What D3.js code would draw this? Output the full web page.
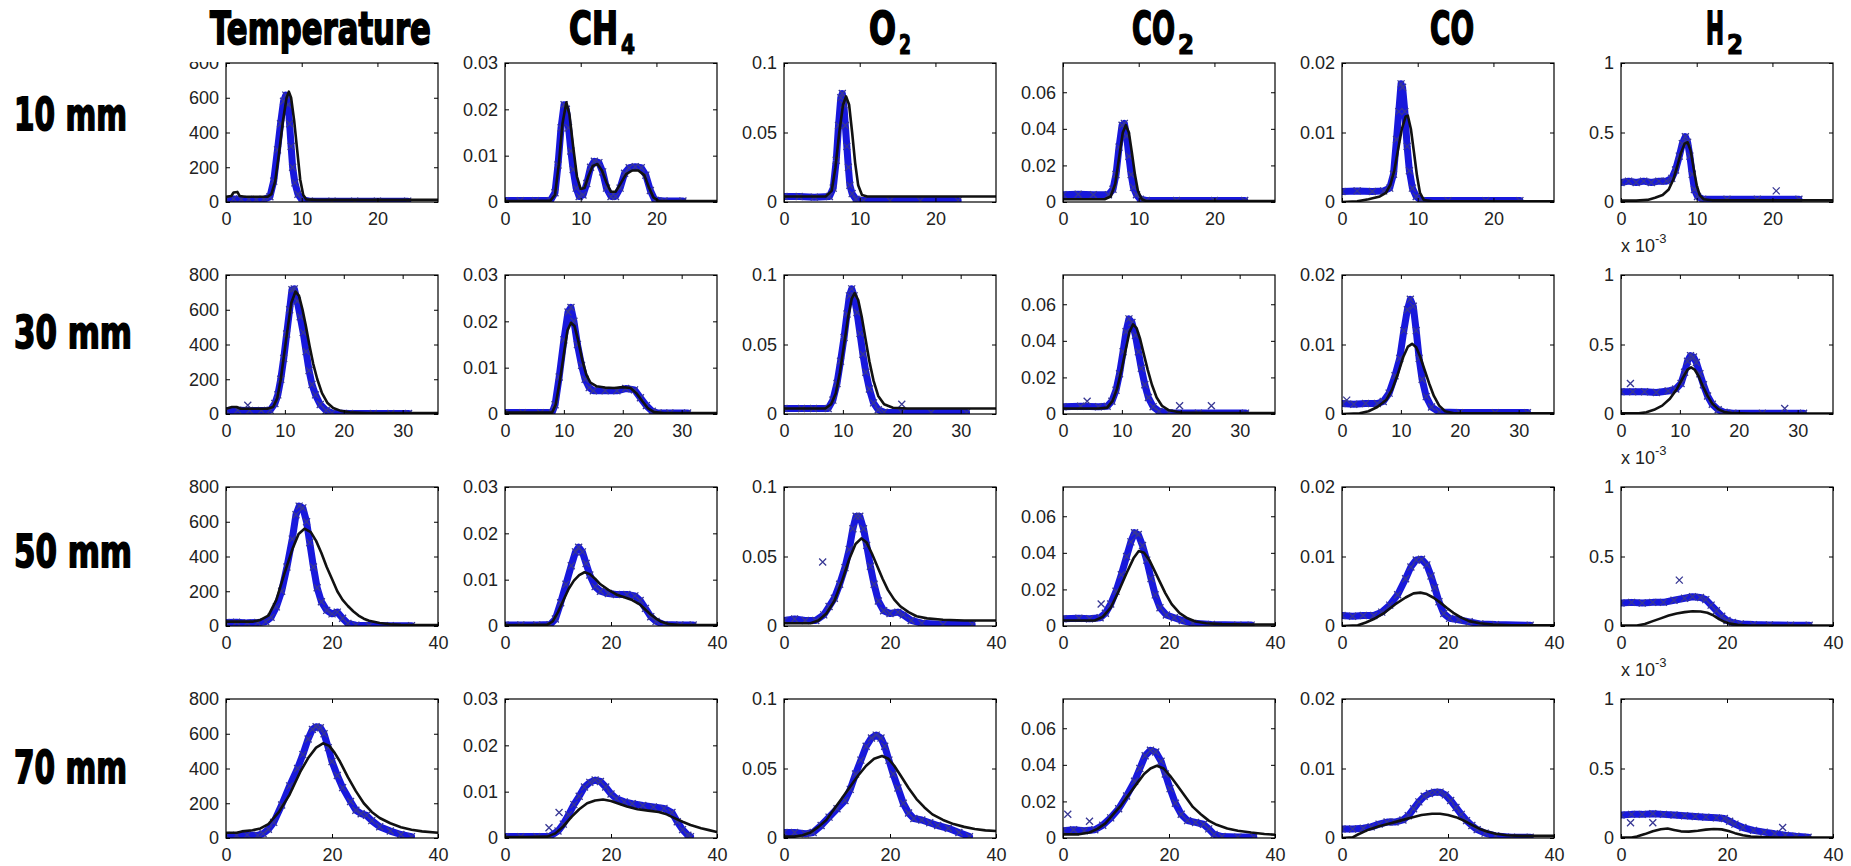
<!DOCTYPE html>
<html>
<head>
<meta charset="utf-8">
<script src="https://cdn.jsdelivr.net/npm/d3@7"></script>
<style>
body { margin: 0; background: #fff; }
.tick text { font-family: "Liberation Sans", Arial, sans-serif; font-size: 18px; fill: #222; }
</style>
</head>
<body>
<script>
// rows = distance above the burner, columns = measured quantity
const heights = ["10 mm", "30 mm", "50 mm", "70 mm"];
const speciesMain = ["Temperature", "CH", "O", "CO", "CO", "H"];
const speciesSub = ["", "4", "2", "2", "", "2"];

const xMax = [28, 36, 40, 40];
const xTicks = [[0, 10, 20], [0, 10, 20, 30], [0, 20, 40], [0, 20, 40]];
const yMax = [800, 0.03, 0.1, 0.076, 0.02, 1];
const yTicks = [[0, 200, 400, 600, 800], [0, 0.01, 0.02, 0.03], [0, 0.05, 0.1],
                [0, 0.02, 0.04, 0.06], [0, 0.01, 0.02], [0, 0.5, 1]];
const h2Exponent = [false, true, true, true];

// measured (blue x) and model (black line), one list per row
const tempExp = [
  [[0,15],[1,18],[2,15],[3,15],[4,14],[5,15],[5.8,30],[6.3,120],[6.8,300],[7.2,450],[7.6,580],[7.9,615],[8.2,560],[8.4,450],[8.6,320],[8.8,200],[9.1,110],[9.5,45],[10,15],[11,5],[14,5],[17,5],[20,5],[24,5]],
  [[0,20],[2,22],[4,20],[6,20],[7.5,22],[8.3,60],[8.8,110],[9.3,200],[9.8,320],[10.3,460],[10.8,600],[11.2,715],[11.6,720],[12.1,650],[12.6,560],[13.1,470],[13.6,360],[14.1,250],[14.6,170],[15.2,110],[16,55],[17,20],[18,6],[21,3],[25,3],[28,3],[31,3]],
  [[0,20],[2,22],[4,18],[6,20],[7.5,25],[8.5,50],[9.5,110],[10.5,200],[11.5,340],[12.5,500],[13.2,640],[13.8,690],[14.5,680],[15.2,600],[15.8,480],[16.5,340],[17.2,220],[18,140],[19,90],[20,70],[21,80],[22,45],[23,15],[24.5,5],[27,3],[31,2],[35,2]],
  [[0,15],[2,15],[4,18],[6,15],[7,25],[8,50],[9,90],[10.5,190],[12,300],[13.5,400],[14.5,480],[15.5,570],[16.3,625],[17,640],[17.8,635],[18.5,600],[19.3,520],[20,440],[21,360],[22,290],[23.5,210],[24.5,160],[25.5,140],[26.5,130],[27.5,100],[29,65],[31,40],[33,20],[35,8]]
];
const tempFit = [
  [[0,30],[0.7,35],[1,55],[1.5,58],[1.8,35],[2.5,30],[4,30],[5.5,30],[6,45],[6.5,120],[7,280],[7.5,460],[8,600],[8.3,635],[8.6,600],[9,470],[9.4,300],[9.8,130],[10.2,40],[10.6,15],[12,12],[16,12],[20,12],[24,12],[28,12]],
  [[0,30],[1,40],[1.8,40],[2.5,30],[5,30],[7,30],[8,40],[8.7,90],[9.3,200],[9.9,350],[10.5,500],[11.1,640],[11.8,705],[12.4,680],[13,600],[13.6,500],[14.2,390],[14.8,290],[15.5,200],[16.3,120],[17.2,65],[18.2,35],[19.5,18],[21,10],[24,6],[28,5],[32,5],[36,5]],
  [[0,25],[3,25],[5,25],[6.5,35],[8,60],[9.5,150],[11,300],[12.5,440],[13.7,530],[14.8,560],[16,540],[17,490],[18,420],[19,340],[20,270],[21,200],[22,150],[23,115],[24,85],[25,60],[26,42],[27,30],[29,17],[31,10],[33,7],[36,5],[40,5]],
  [[0,30],[2,30],[3,38],[5,45],[6.5,55],[8,80],[10,150],[12,250],[14,380],[15.5,460],[17,520],[18.3,545],[19.5,530],[20.5,490],[21.5,440],[23,350],[24.5,270],[26,200],[27.5,150],[29,115],[31,85],[33,62],[35,48],[37,38],[40,30]]
];
const tempOut = [[], [[3.7,50]], [], []];

const ch4Exp = [
  [[0,0.0003],[2,0.0003],[4,0.0003],[6,0.0003],[6.6,0.002],[7,0.008],[7.4,0.016],[7.8,0.021],[8.1,0.02],[8.4,0.016],[8.7,0.011],[9,0.007],[9.4,0.003],[9.8,0.0012],[10.3,0.0015],[10.8,0.004],[11.3,0.0075],[11.8,0.0088],[12.4,0.0085],[12.9,0.0065],[13.4,0.003],[14,0.0012],[14.6,0.0012],[15.2,0.003],[15.8,0.0062],[16.4,0.0074],[17.2,0.0076],[18,0.0074],[18.6,0.0058],[19.2,0.0025],[19.8,0.0004],[21,0.0002],[23.5,0.0002]],
  [[0,0.0003],[3,0.0003],[6,0.0003],[8,0.0003],[8.5,0.002],[9.2,0.008],[10,0.016],[10.7,0.022],[11.2,0.023],[11.7,0.02],[12.3,0.015],[13,0.0105],[13.6,0.0075],[14.3,0.0057],[15,0.005],[17,0.005],[19,0.005],[20.5,0.0055],[22,0.0052],[23,0.0035],[24,0.0018],[25,0.0006],[26,0.0002],[28,0.0002],[31,0.0002]],
  [[0,0.0002],[3,0.0002],[6,0.0002],[8.5,0.0003],[9.5,0.0015],[10.5,0.005],[11.5,0.009],[12.5,0.013],[13.3,0.016],[13.9,0.017],[14.6,0.016],[15.3,0.0135],[16,0.011],[17,0.0085],[18,0.0075],[19.5,0.007],[21,0.0068],[23,0.0068],[24.5,0.0065],[25.5,0.0055],[26.5,0.0038],[27.5,0.002],[28.5,0.001],[30,0.0003],[33,0.0002],[35.5,0.0002]],
  [[0,0.0003],[3,0.0003],[6,0.0003],[8.5,0.0004],[10,0.0015],[11,0.003],[12,0.005],[13,0.0072],[14,0.009],[15,0.011],[16,0.012],[17,0.0125],[18,0.0122],[19,0.011],[20,0.0095],[21,0.0085],[22.5,0.0078],[24,0.0074],[26,0.007],[28,0.0067],[30,0.0064],[31.5,0.0055],[32.5,0.0035],[33.5,0.0018],[34.5,0.0006],[35,0.0003]]
];
const ch4Fit = [
  [[0,0.0002],[3,0.0002],[6,0.0003],[6.6,0.0015],[7.1,0.008],[7.6,0.017],[8.1,0.0215],[8.5,0.019],[9,0.012],[9.5,0.0055],[10,0.0028],[10.5,0.003],[11,0.0055],[11.6,0.0078],[12.2,0.0082],[12.8,0.0068],[13.4,0.0042],[14,0.0022],[14.6,0.0022],[15.2,0.0038],[16,0.006],[16.8,0.0068],[17.6,0.0068],[18.4,0.0058],[19,0.0032],[19.6,0.001],[20.3,0.0002],[24,0.0002],[28,0.0002]],
  [[0,0.0003],[4,0.0003],[8,0.0003],[8.6,0.002],[9.3,0.007],[10,0.013],[10.6,0.018],[11.2,0.0197],[11.8,0.019],[12.4,0.016],[13.1,0.0118],[13.8,0.0085],[14.5,0.0068],[15.5,0.006],[17,0.0057],[18.5,0.0056],[20,0.0058],[21.3,0.0056],[22.3,0.0045],[23.3,0.0028],[24.3,0.0012],[25.3,0.0004],[27,0.0002],[36,0.0002]],
  [[0,0.0002],[4,0.0002],[8,0.0003],[9,0.001],[10,0.003],[11,0.0055],[12,0.008],[13,0.0098],[14,0.011],[15,0.0116],[16,0.0112],[17,0.0102],[18,0.009],[19.5,0.0078],[21,0.0068],[22.5,0.0062],[24,0.0056],[25.5,0.0046],[26.5,0.0035],[27.5,0.0025],[28.5,0.0016],[29.5,0.0009],[31,0.0004],[33,0.0002],[40,0.0002]],
  [[0,0.0002],[4,0.0002],[8,0.0003],[9.5,0.001],[11,0.0025],[12.5,0.0045],[14,0.0062],[15.5,0.0075],[17,0.0081],[18.5,0.0083],[20,0.008],[21.5,0.0074],[23,0.0068],[25,0.0062],[27,0.0059],[29,0.0056],[30.5,0.0051],[32,0.0043],[33.5,0.0035],[35,0.0028],[37,0.0021],[38.5,0.0017],[40,0.0013]]
];
const ch4Out = [[], [], [], [[8.3,0.0022],[10.2,0.0055]]];

const o2Exp = [
  [[0,0.004],[2,0.004],[4,0.0035],[6,0.004],[6.5,0.01],[6.9,0.03],[7.2,0.055],[7.5,0.075],[7.7,0.078],[7.9,0.07],[8.1,0.055],[8.3,0.04],[8.5,0.025],[8.7,0.012],[9,0.006],[9.5,0.002],[10.5,0.001],[14,0.001],[18,0.001],[23,0.001]],
  [[0,0.004],[3,0.004],[5,0.004],[7.5,0.004],[8.3,0.01],[9,0.022],[9.6,0.038],[10.2,0.055],[10.7,0.072],[11.1,0.085],[11.5,0.09],[11.9,0.085],[12.4,0.073],[12.9,0.058],[13.4,0.043],[13.9,0.03],[14.5,0.018],[15.2,0.008],[16,0.003],[17,0.0012],[20,0.001],[25,0.001],[31,0.001]],
  [[0,0.004],[2,0.005],[4,0.004],[6,0.004],[7.5,0.008],[8.5,0.014],[9.5,0.02],[10.5,0.03],[11.5,0.042],[12.3,0.055],[13,0.07],[13.6,0.079],[14.3,0.079],[15,0.07],[15.6,0.058],[16.3,0.043],[17,0.03],[17.8,0.018],[18.8,0.011],[20,0.009],[21.5,0.01],[22.5,0.008],[24,0.004],[26,0.002],[30,0.001],[35.5,0.001]],
  [[0,0.004],[2,0.004],[4,0.003],[5.5,0.004],[7,0.009],[8.5,0.015],[10,0.021],[11.5,0.027],[12.5,0.035],[13.5,0.046],[14.5,0.056],[15.5,0.066],[16.5,0.072],[17.4,0.074],[18.3,0.072],[19,0.066],[19.8,0.056],[20.6,0.046],[21.5,0.036],[22.5,0.025],[23.5,0.018],[24.5,0.014],[26,0.013],[27.5,0.011],[29,0.009],[31,0.007],[33,0.004],[35,0.001]]
];
const o2Fit = [
  [[0,0.004],[3,0.004],[5.5,0.004],[6.3,0.008],[6.8,0.025],[7.3,0.05],[7.8,0.07],[8.2,0.076],[8.6,0.07],[9,0.05],[9.4,0.028],[9.8,0.012],[10.3,0.005],[11,0.004],[15,0.004],[20,0.004],[28,0.004]],
  [[0,0.004],[4,0.004],[7,0.004],[8,0.007],[8.8,0.015],[9.5,0.03],[10.2,0.05],[10.9,0.07],[11.5,0.083],[12,0.087],[12.6,0.082],[13.2,0.07],[13.8,0.055],[14.5,0.038],[15.2,0.024],[16,0.013],[17,0.007],[18.5,0.0045],[21,0.004],[28,0.004],[36,0.004]],
  [[0,0.002],[3,0.002],[5,0.002],[6.5,0.004],[8,0.009],[9.5,0.018],[11,0.033],[12.3,0.048],[13.5,0.059],[14.6,0.063],[15.6,0.06],[16.6,0.052],[17.6,0.043],[18.6,0.034],[19.6,0.026],[20.8,0.019],[22,0.014],[23.5,0.01],[25,0.007],[27,0.0055],[30,0.0045],[34,0.004],[40,0.004]],
  [[0,0.001],[2,0.001],[3.5,0.002],[5,0.004],[6.5,0.008],[8,0.013],[9.5,0.021],[11,0.029],[12.5,0.037],[14,0.045],[15.5,0.052],[17,0.057],[18.5,0.059],[19.7,0.057],[20.8,0.052],[22,0.045],[23.5,0.036],[25,0.028],[26.5,0.022],[28,0.017],[30,0.013],[32,0.01],[34,0.008],[36,0.0065],[38,0.0055],[40,0.005]]
];
const o2Out = [[], [[20,0.007]], [[7.3,0.046]], []];

const co2Exp = [
  [[0,0.004],[2,0.0042],[4,0.004],[6,0.004],[6.6,0.007],[7,0.015],[7.4,0.03],[7.8,0.042],[8.1,0.043],[8.4,0.036],[8.7,0.025],[9,0.015],[9.3,0.008],[9.7,0.004],[10.2,0.0015],[11,0.0008],[15,0.0008],[20,0.0008],[24,0.0008]],
  [[0,0.004],[3,0.0042],[6,0.004],[7.5,0.0042],[8.3,0.007],[9,0.013],[9.6,0.022],[10.2,0.034],[10.7,0.045],[11.2,0.052],[11.7,0.05],[12.3,0.043],[12.8,0.034],[13.3,0.025],[13.9,0.016],[14.5,0.009],[15.3,0.004],[16.3,0.0015],[18,0.0006],[23,0.0005],[31,0.0005]],
  [[0,0.004],[3,0.0042],[5,0.004],[7,0.0045],[8,0.007],[9,0.012],[10,0.019],[11,0.028],[12,0.038],[12.8,0.046],[13.5,0.051],[14.2,0.05],[15,0.044],[15.8,0.036],[16.6,0.026],[17.4,0.017],[18.3,0.01],[19.5,0.006],[21,0.0045],[22.5,0.003],[24.5,0.0015],[28,0.0008],[33,0.0005],[35.5,0.0005]],
  [[0,0.004],[2,0.0045],[4,0.004],[6,0.0045],[7.5,0.007],[9,0.011],[10.5,0.016],[12,0.023],[13.5,0.031],[14.5,0.038],[15.5,0.045],[16.5,0.048],[17.5,0.047],[18.5,0.042],[19.3,0.035],[20.2,0.027],[21.2,0.019],[22.3,0.013],[23.5,0.0095],[25,0.0085],[26.5,0.0075],[27.5,0.005],[28.5,0.002],[30,0.0008],[33,0.0005],[36,0.0005]]
];
const co2Fit = [
  [[0,0.0015],[3,0.0015],[5.5,0.0015],[6.3,0.003],[6.9,0.01],[7.4,0.024],[7.9,0.038],[8.3,0.042],[8.7,0.038],[9.1,0.027],[9.5,0.015],[9.9,0.006],[10.4,0.0015],[11,0.0005],[16,0.0005],[22,0.0005],[28,0.0005]],
  [[0,0.003],[3,0.003],[6,0.003],[7.5,0.0035],[8.4,0.007],[9.2,0.014],[10,0.025],[10.7,0.036],[11.3,0.045],[11.9,0.049],[12.5,0.047],[13.1,0.041],[13.7,0.033],[14.4,0.024],[15.1,0.016],[15.9,0.009],[16.8,0.0045],[18,0.002],[20,0.0008],[25,0.0005],[36,0.0005]],
  [[0,0.003],[3,0.003],[6,0.003],[7.5,0.005],[9,0.01],[10.5,0.019],[12,0.029],[13.3,0.037],[14.3,0.041],[15.3,0.04],[16.3,0.036],[17.3,0.03],[18.3,0.024],[19.3,0.018],[20.5,0.012],[22,0.007],[23.5,0.0042],[25,0.0025],[27,0.0015],[30,0.001],[35,0.0008],[40,0.0008]],
  [[0,0.002],[3,0.002],[5,0.003],[6.5,0.005],[8,0.008],[9.5,0.013],[11,0.018],[12.5,0.024],[14,0.03],[15.3,0.035],[16.5,0.038],[17.7,0.0395],[19,0.038],[20.2,0.034],[21.5,0.029],[23,0.023],[24.5,0.017],[26,0.013],[27.5,0.0095],[29,0.0072],[31,0.0052],[33,0.004],[35.5,0.003],[38,0.0022],[40,0.0018]]
];
const co2Out = [[], [[4.1,0.007],[19.8,0.0045],[25.2,0.0045]], [[7.2,0.012]], [[0.9,0.013],[5,0.0092]]];

const coExp = [
  [[0,0.0015],[2,0.0016],[4,0.0015],[5.5,0.0016],[6.3,0.002],[6.8,0.004],[7.2,0.009],[7.5,0.013],[7.8,0.017],[8,0.0165],[8.3,0.013],[8.6,0.008],[8.9,0.0045],[9.3,0.002],[9.8,0.0008],[10.5,0.0002],[14,0.0002],[19,0.0002],[23.5,0.0002]],
  [[0,0.0015],[2,0.0014],[4,0.0015],[6,0.0015],[7,0.0018],[8,0.003],[9,0.0055],[9.8,0.008],[10.5,0.012],[11.1,0.015],[11.6,0.0165],[12.1,0.0155],[12.6,0.012],[13.1,0.008],[13.6,0.005],[14.3,0.0025],[15.2,0.001],[16.5,0.0003],[20,0.0002],[26,0.0002],[31.5,0.0002]],
  [[0,0.0015],[2,0.0014],[4,0.0015],[6,0.0015],[7.5,0.002],[9,0.003],[10.5,0.0045],[12,0.0068],[13,0.0085],[14,0.0095],[15,0.0096],[16,0.0088],[16.8,0.0072],[17.5,0.0055],[18.3,0.0035],[19.2,0.0018],[20.3,0.0011],[22,0.0009],[24,0.0006],[26,0.0003],[29,0.0002],[35.5,0.0001]],
  [[0,0.0013],[2,0.0013],[4,0.0014],[5.5,0.0016],[7,0.002],[8.5,0.0023],[10,0.0023],[11.5,0.0026],[12.5,0.0032],[13.5,0.0042],[14.5,0.0052],[15.5,0.006],[16.5,0.0064],[17.5,0.0066],[18.5,0.0066],[19.5,0.0062],[20.5,0.0054],[21.5,0.0044],[22.5,0.0034],[23.5,0.0025],[24.5,0.0018],[25.5,0.0012],[27,0.0007],[29,0.0003],[32,0.0001],[35.5,0.0001]]
];
const coFit = [
  [[0,0],[2,0.0001],[3.5,0.0004],[5,0.0008],[5.8,0.0013],[6.4,0.0025],[6.9,0.0045],[7.4,0.0075],[7.9,0.0105],[8.4,0.0123],[8.7,0.0124],[9.1,0.0105],[9.5,0.0072],[9.9,0.0038],[10.3,0.0013],[10.8,0.0003],[12,0.0001],[20,0.0001],[28,0.0001]],
  [[0,0],[3,0.0001],[4.5,0.0004],[6,0.001],[7.5,0.002],[8.5,0.0035],[9.5,0.0058],[10.4,0.0082],[11.2,0.0097],[11.9,0.0101],[12.6,0.0096],[13.3,0.0082],[14,0.0064],[14.8,0.0044],[15.6,0.0026],[16.5,0.0012],[17.5,0.0004],[19,0.0001],[36,0.0001]],
  [[0,0],[3,0.0001],[4.5,0.0005],[6,0.001],[8,0.0019],[10,0.0031],[12,0.0041],[13.5,0.0047],[14.8,0.0048],[16,0.0046],[17.2,0.0041],[18.5,0.0034],[19.8,0.0026],[21,0.0019],[22.5,0.0012],[24,0.0007],[26,0.0004],[28.5,0.0002],[32,0.0001],[40,0.0001]],
  [[0,0],[2,0.0001],[3,0.0005],[5,0.0012],[7,0.0017],[9,0.0021],[11,0.0025],[13,0.0029],[15,0.0033],[17,0.0035],[18.5,0.0035],[20,0.0033],[21.5,0.003],[23,0.0025],[24.5,0.0019],[26,0.0013],[27.5,0.0009],[29,0.0006],[31,0.0004],[34,0.0003],[37,0.0003],[40,0.0003]]
];
const coOut = [[], [[0.8,0.002]], [], []];

const h2Exp = [
  [[0,0.14],[1,0.15],[2,0.14],[3,0.15],[4,0.14],[5,0.15],[6,0.15],[6.7,0.17],[7.2,0.23],[7.7,0.33],[8.1,0.42],[8.5,0.47],[8.8,0.43],[9.1,0.33],[9.4,0.2],[9.7,0.09],[10.1,0.04],[10.8,0.02],[14,0.02],[18,0.02],[23.5,0.02]],
  [[0,0.16],[2,0.16],[4,0.16],[6,0.155],[8,0.165],[9.3,0.18],[10.2,0.22],[10.8,0.3],[11.3,0.38],[11.8,0.42],[12.3,0.41],[12.8,0.37],[13.4,0.29],[14,0.21],[14.7,0.13],[15.5,0.07],[16.5,0.03],[17.5,0.012],[19,0.005],[24,0.005],[31,0.005]],
  [[0,0.165],[2,0.17],[4,0.165],[6,0.17],[8,0.17],[10,0.185],[12,0.2],[13.5,0.21],[15,0.205],[16,0.19],[17,0.15],[18,0.11],[19,0.07],[20,0.04],[21,0.025],[22.5,0.015],[25,0.01],[28,0.008],[32,0.005],[35.5,0.005]],
  [[0,0.165],[2,0.17],[4,0.17],[6,0.175],[8,0.17],[10,0.165],[12,0.16],[14,0.155],[16,0.15],[18,0.145],[19.5,0.14],[20.5,0.12],[21.5,0.1],[23,0.075],[25,0.055],[27,0.042],[29,0.03],[31,0.02],[33,0.012],[35.3,0.005]]
];
const h2Fit = [
  [[0,0.01],[2,0.01],[3.5,0.015],[4.5,0.03],[5.5,0.05],[6.3,0.09],[6.9,0.16],[7.4,0.25],[7.9,0.35],[8.4,0.42],[8.8,0.43],[9.2,0.37],[9.6,0.24],[10,0.12],[10.4,0.05],[10.9,0.02],[12,0.012],[20,0.012],[28,0.012]],
  [[0,0.005],[3,0.005],[4.3,0.012],[5.6,0.03],[7,0.06],[8.3,0.11],[9.5,0.18],[10.5,0.26],[11.3,0.32],[11.9,0.335],[12.5,0.32],[13.2,0.27],[13.9,0.2],[14.7,0.13],[15.5,0.075],[16.5,0.035],[17.5,0.015],[19,0.006],[22,0.004],[36,0.004]],
  [[0,0.003],[3,0.003],[4.5,0.015],[6,0.035],[7.5,0.055],[9,0.075],[10.5,0.09],[12,0.1],[13.5,0.106],[15,0.104],[16.3,0.095],[17.5,0.075],[18.5,0.05],[19.5,0.03],[20.5,0.017],[22,0.008],[24,0.004],[28,0.003],[40,0.003]],
  [[0,0.003],[2,0.003],[3,0.01],[4.5,0.028],[6,0.048],[7.5,0.063],[8.8,0.068],[10,0.058],[11.3,0.048],[12.8,0.046],[14.5,0.052],[16,0.06],[17.5,0.065],[19,0.062],[20.3,0.05],[21.5,0.035],[23,0.02],[24.5,0.011],[26.5,0.006],[29,0.004],[33,0.003],[40,0.003]]
];
const h2Out = [[[20.5,0.08]], [[1.6,0.22],[27.8,0.04]], [[11,0.33]], [[1.8,0.11],[6,0.11],[30.5,0.075]]];

const measured = [tempExp, ch4Exp, o2Exp, co2Exp, coExp, h2Exp];
const model = [tempFit, ch4Fit, o2Fit, co2Fit, coFit, h2Fit];
const stray = [tempOut, ch4Out, o2Out, co2Out, coOut, h2Out];

// layout
const W = 1851, H = 866;
const panelW = 212, panelH = 139;
const colLeft = d3.range(6).map(i => 226 + 279 * i);
const rowTop = d3.range(4).map(j => 63 + 212 * j);

const svg = d3.select("body").append("svg")
    .attr("width", W)
    .attr("height", H)
    .style("display", "block");

const xMark = "M-3.5,-3.5L3.5,3.5M-3.5,3.5L3.5,-3.5";

heights.forEach((hLabel, r) => {
  speciesMain.forEach((sp, c) => {
    const g = svg.append("g")
        .attr("transform", `translate(${colLeft[c]},${rowTop[r]})`);
    const x = d3.scaleLinear().domain([0, xMax[r]]).range([0, panelW]);
    const y = d3.scaleLinear().domain([0, yMax[c]]).range([panelH, 0]);

    const clipId = `clip-${r}-${c}`;
    g.append("clipPath").attr("id", clipId)
      .append("rect").attr("width", panelW).attr("height", panelH);

    const plot = g.append("g").attr("clip-path", `url(#${clipId})`);
    const line = d3.line().x(d => x(d[0])).y(d => y(d[1]));

    // measured values: dense blue band of x markers
    plot.append("path")
        .datum(measured[c][r])
        .attr("d", line)
        .attr("fill", "none")
        .attr("stroke", "#1818dc")
        .attr("stroke-width", 7)
        .attr("stroke-linejoin", "round")
        .attr("stroke-linecap", "round");

    plot.selectAll(".mk")
      .data(measured[c][r].concat(stray[c][r]))
      .enter().append("path")
        .attr("class", "mk")
        .attr("transform", d => `translate(${x(d[0])},${y(d[1])})`)
        .attr("d", xMark)
        .attr("fill", "none")
        .attr("stroke", "#383894")
        .attr("stroke-width", 1.3);

    // model line
    plot.append("path")
        .datum(model[c][r])
        .attr("d", line)
        .attr("fill", "none")
        .attr("stroke", "#111")
        .attr("stroke-width", 2.6)
        .attr("stroke-linejoin", "round");

    // axes, inward ticks on all four sides
    g.append("g")
        .call(d3.axisLeft(y).tickValues(yTicks[c]).tickSize(-4).tickPadding(7)
          .tickFormat(d => String(d)))
        .call(a => a.select(".domain").remove());
    g.append("g").attr("transform", `translate(${panelW},0)`)
        .call(d3.axisRight(y).tickValues(yTicks[c]).tickSize(-4).tickFormat(""))
        .call(a => a.select(".domain").remove());
    g.append("g").attr("transform", `translate(0,${panelH})`)
        .call(d3.axisBottom(x).tickValues(xTicks[r]).tickSize(-4).tickPadding(10)
          .tickFormat(d => String(d)))
        .call(a => a.select(".domain").remove());
    g.append("g")
        .call(d3.axisTop(x).tickValues(xTicks[r]).tickSize(-4).tickFormat(""))
        .call(a => a.select(".domain").remove());

    g.append("rect")
        .attr("width", panelW).attr("height", panelH)
        .attr("fill", "none").attr("stroke", "#000").attr("stroke-width", 1.2);

    if (c === 5 && h2Exponent[r]) {
      const t = g.append("text")
          .attr("x", 0).attr("y", -23)
          .style("font-family", "Liberation Sans, Arial, sans-serif")
          .style("font-size", "18px").style("fill", "#222")
          .text("x 10");
      t.append("tspan").attr("dy", -9).style("font-size", "13px").text("-3");
    }
  });
});

// the title strip hides the top of the first "800" label
svg.append("rect").attr("x", 185).attr("y", 0).attr("width", 260).attr("height", 62)
    .attr("fill", "#fff");

// heavy condensed labels: squeeze a bold face to the measured width
const bigFont = "DejaVu Sans, Liberation Sans, sans-serif";
function heavyText(str, x0, base, width, size, sw) {
  const t = svg.append("text")
      .attr("x", 0).attr("y", 0)
      .style("font-family", bigFont).style("font-weight", "bold")
      .style("font-size", size + "px")
      .style("fill", "#000").style("stroke", "#000").style("stroke-width", sw)
      .text(str);
  const natural = t.node().getComputedTextLength();
  t.attr("transform", `translate(${x0},${base}) scale(${width / natural},1)`);
  return t;
}

// column titles
const titleLayout = [[210, 221, 0], [569, 49, 14], [869, 27, 12], [1132, 43, 16], [1430, 44, 0], [1706, 18, 16]];
speciesMain.forEach((sp, c) => {
  const [x0, len, subLen] = titleLayout[c];
  heavyText(sp, x0, 44, len, 44, 1.8);
  if (speciesSub[c]) heavyText(speciesSub[c], x0 + len + 3, 54, subLen, 27, 1.2);
});

// row labels
const rowBase = [130, 348, 567, 783];
const rowLen = [113, 118, 118, 113];
heights.forEach((hLabel, r) => heavyText(hLabel, 14, rowBase[r], rowLen[r], 44, 1.8));
</script>
</body>
</html>
